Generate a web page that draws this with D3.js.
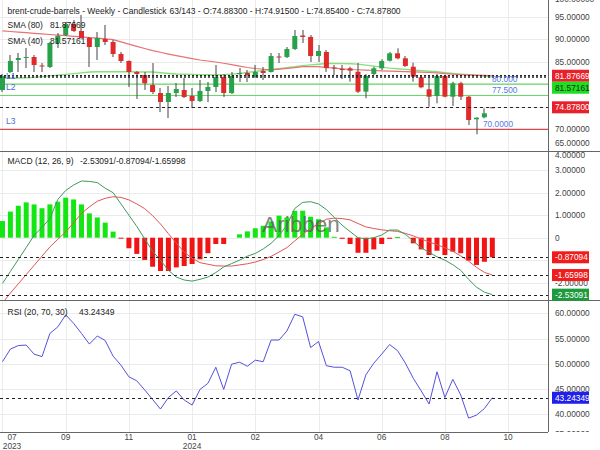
<!DOCTYPE html>
<html><head><meta charset="utf-8">
<script src="https://cdn.jsdelivr.net/npm/d3@7"></script>
<style>
html,body{margin:0;padding:0;background:#fff;}
svg{display:block;font-family:"Liberation Sans",Arial,sans-serif;}
</style></head><body>
<svg id="c" width="600" height="450"></svg>
<script>
// ---------- DATA ----------
const opens  = [78.71,82.71,85.37,85.81,86.03,84.15,83.82,89.14,90.91,93.35,91.80,90.25,88.25,90.02,89.36,86.70,85.15,82.71,82.04,79.82,78.05,76.06,78.05,78.72,77.39,76.28,78.50,79.38,81.60,78.05,82.26,82.49,81.60,82.93,82.71,86.14,86.03,87.81,90.80,90.47,86.25,87.14,83.70,83.37,83.53,82.77,78.34,82.26,83.53,85.21,86.85,85.74,83.88,81.53,78.87,77.39,81.82,77.23,80.20,77.23,72.22,72.66,74.883];
const highs  = [82.30,86.48,86.92,88.03,86.48,84.70,89.36,91.35,93.79,94.24,95.34,90.47,91.58,93.13,89.80,87.14,85.26,82.93,82.71,84.70,79.16,79.60,80.27,81.38,79.16,80.93,80.49,84.26,82.26,82.71,83.59,83.15,84.26,83.82,86.92,86.92,88.25,92.02,92.02,90.91,88.69,87.58,84.26,84.26,83.88,84.70,82.26,83.88,85.52,87.14,87.96,86.25,84.77,82.04,81.82,82.26,82.04,80.56,80.56,77.39,72.66,74.66,74.915];
const lows   = [78.27,82.49,82.71,83.59,82.71,82.71,83.59,88.03,90.69,91.58,90.14,83.82,85.37,88.69,86.03,84.70,79.38,76.72,78.72,77.83,73.84,72.51,77.17,76.94,74.73,76.06,76.06,78.27,77.17,77.83,80.49,80.49,81.38,80.93,82.60,84.70,85.81,87.58,89.14,84.92,84.92,82.71,82.04,81.16,80.56,78.05,76.88,82.04,83.15,85.03,85.52,83.82,80.56,79.09,75.01,75.77,77.10,75.17,76.50,70.96,68.89,72.44,74.854];
const closes = [81.82,85.15,85.81,86.03,84.26,83.93,89.14,90.69,93.35,91.80,90.25,88.25,90.25,89.36,86.70,85.15,82.71,82.26,80.20,78.27,76.06,78.05,78.94,77.17,76.28,78.50,79.38,81.60,78.05,81.82,82.49,82.04,82.71,82.49,86.25,85.92,87.81,90.69,90.47,86.25,87.36,83.59,83.48,83.26,83.00,78.34,81.82,83.53,85.15,86.85,85.74,84.04,81.67,79.32,77.23,81.82,77.23,80.20,77.23,72.06,72.58,73.55,74.878];

const sma80 = [91.82,91.69,91.55,91.42,91.29,91.15,91.02,90.89,90.75,90.62,90.49,90.33,90.20,90.07,89.89,89.38,88.87,88.38,87.92,87.45,87.08,86.68,86.32,85.99,85.68,85.37,85.15,84.92,84.64,84.33,84.02,83.70,83.48,83.31,83.17,83.35,83.53,83.68,83.88,83.90,83.88,83.66,83.59,83.42,83.26,83.20,83.13,83.04,82.97,82.91,82.84,82.77,82.73,82.66,82.60,82.51,82.35,82.22,82.13,82.06,82.02,81.95,81.87669];
const sma40 = [81.31,81.36,81.38,81.40,81.51,81.67,81.84,82.00,82.18,82.35,82.51,82.69,82.77,82.77,82.77,82.75,82.75,82.73,82.71,82.69,82.53,82.38,82.26,82.22,82.18,82.13,82.09,82.04,82.13,82.24,82.38,82.62,82.82,83.06,83.26,83.44,83.64,83.88,84.13,84.28,84.44,84.59,84.61,84.57,84.52,84.46,84.24,84.02,83.79,83.57,83.42,83.29,83.15,83.02,82.88,82.75,82.57,82.40,82.24,82.09,81.95,81.80,81.57161];

const macdLine = [-2.03,-1.50,-0.97,-0.44,0.10,0.46,0.85,1.70,2.10,2.34,2.52,2.50,2.45,2.20,2.00,1.50,1.00,0.50,-0.05,-0.60,-1.00,-1.45,-1.75,-1.88,-1.93,-1.85,-1.75,-1.55,-1.30,-1.15,-1.00,-0.82,-0.70,-0.50,-0.25,0.10,0.55,1.30,1.57,1.60,1.50,1.25,0.90,0.55,0.27,0.00,-0.05,0.00,0.12,0.34,0.34,0.15,-0.15,-0.45,-0.65,-0.85,-1.00,-1.20,-1.45,-1.85,-2.20,-2.42,-2.53091];
const macdSignal = [-2.90,-2.46,-2.05,-1.64,-1.23,-0.82,-0.41,-0.07,0.26,0.66,1.08,1.37,1.62,1.75,1.82,1.79,1.68,1.50,1.29,0.98,0.61,0.18,-0.24,-0.64,-0.91,-1.11,-1.18,-1.25,-1.26,-1.26,-1.21,-1.16,-1.08,-0.97,-0.83,-0.64,-0.44,-0.14,0.15,0.41,0.62,0.82,0.87,0.85,0.79,0.63,0.48,0.41,0.35,0.31,0.28,0.19,0.08,-0.06,-0.19,-0.31,-0.45,-0.60,-0.81,-1.04,-1.32,-1.54,-1.65998];
const macdHist = [0.74,1.16,1.42,1.57,1.48,1.31,1.48,1.60,1.78,1.70,1.48,1.08,0.90,0.67,0.27,-0.03,-0.47,-0.72,-0.99,-1.29,-1.48,-1.48,-1.32,-1.26,-1.17,-0.96,-0.69,-0.28,-0.28,0.00,0.15,0.28,0.42,0.53,0.72,0.98,0.90,1.19,1.20,0.93,0.82,0.46,0.04,-0.05,-0.28,-0.67,-0.67,-0.52,-0.28,-0.05,0.03,0.00,-0.25,-0.52,-0.77,-0.58,-0.77,-0.62,-0.69,-1.02,-1.21,-1.07,-0.87094];

const rsi = [50.4,52.9,53.6,53.7,51.9,51.4,56.0,57.3,59.7,58.0,56.0,53.9,55.5,54.6,51.5,49.7,47.4,46.6,44.8,42.9,41.0,43.3,44.6,42.8,41.8,44.9,46.1,49.3,44.9,49.9,50.3,49.5,50.7,50.4,54.7,54.7,56.5,59.8,59.3,53.2,54.4,49.6,49.3,49.3,48.6,42.8,47.8,50.1,51.9,53.8,52.6,50.1,47.1,44.6,42.0,48.4,43.3,46.9,43.8,39.2,39.8,41.1,43.24349];

const tickIndex = [0,8,16,24,32,40,48,56,64];
const tickMonth = ["07","09","11","01","02","04","06","08","10"];
const tickYear  = ["2023","","","2024","","","","",""];
const priceTicks = [65,70,75,80,85,90,95,100];
const macdTicks = [-2,-1,0,1,2,3,4];
const rsiTicks = [35,40,45,50,55,60];
const levelValues = [80,77.5,70];
const levelNames  = ["L1","L2","L3"];
const levelLabels = ["80.000","77.500","70.0000"];
const totalBars = 143;

// ---------- LAYOUT ----------
const svg = d3.select("#c");
const W = 548;
const PT=0, PB=151, MT=151, MB=300, RT=300, RB=432;
const n = closes.length;
const x = d3.scaleLinear().domain([-0.316, 69.05]).range([0, W]);
const yP = d3.scaleLinear().domain([65.19, 98.67]).range([PB, PT]);
const yM = d3.scaleLinear().domain([-2.769, 3.853]).range([MB, MT]);
const yR = d3.scaleLinear().domain([36.45, 62.64]).range([RB, RT]);
const idx = d3.range(n);
const crisp = v => Math.round(v) + 0.5;
const f5 = v => v.toFixed(5);

const defs = svg.append("defs");
function clip(id,x0,y0,w,h){defs.append("clipPath").attr("id",id).append("rect").attr("x",x0).attr("y",y0).attr("width",w).attr("height",h);}
clip("cp",0,PT,W,PB-PT); clip("cm",0,MT,W,MB-MT); clip("cr",0,RT,W,RB-RT);
clip("ap",W+1,PT,60,PB-PT); clip("am",W+1,MT,60,MB-MT); clip("ar",W+1,RT,60,RB-RT);

// ---------- GRID ----------
const grid = svg.append("g").attr("stroke","#ebebeb").attr("stroke-width",1);
tickIndex.forEach(t=>grid.append("line").attr("x1",crisp(x(t))).attr("x2",crisp(x(t))).attr("y1",0).attr("y2",RB));
function hgrid(ticks, sc, top, bot){
  ticks.forEach(v=>{const y=sc(v); if(y>top+1 && y<bot-1) grid.append("line").attr("x1",0).attr("x2",W).attr("y1",crisp(y)).attr("y2",crisp(y));});
}
hgrid(priceTicks,yP,PT,PB); hgrid(macdTicks,yM,MT,MB); hgrid(rsiTicks,yR,RT,RB);

// ---------- MAIN PANEL ----------
const gP = svg.append("g").attr("clip-path","url(#cp)");
const levelColors = ["#66d966","#66d966","#e04848"];
levelValues.forEach((v,i)=>{
  gP.append("line").attr("x1",0).attr("x2",W).attr("y1",yP(v)).attr("y2",yP(v))
    .attr("stroke",levelColors[i]).attr("stroke-width",1.2);
});
const lineP = (arr)=>d3.line().x((d,i)=>x(i)).y(d=>yP(d))(arr);
gP.append("path").attr("d",lineP(sma40)).attr("fill","none").attr("stroke","#86e07a").attr("stroke-width",1.4);
gP.append("path").attr("d",lineP(sma80)).attr("fill","none").attr("stroke","#e87272").attr("stroke-width",1.2);

const up = i => closes[i] >= opens[i];
gP.selectAll("line.wick").data(idx).enter().append("line")
  .attr("x1",i=>crisp(x(i))-0.5).attr("x2",i=>crisp(x(i))-0.5)
  .attr("y1",i=>yP(highs[i])).attr("y2",i=>yP(lows[i]))
  .attr("stroke","#444").attr("stroke-width",1);
gP.selectAll("rect.body").data(idx).enter().append("rect")
  .attr("x",i=>x(i)-2.5).attr("width",5)
  .attr("y",i=>yP(Math.max(opens[i],closes[i])))
  .attr("height",i=>Math.max(1,Math.abs(yP(opens[i])-yP(closes[i]))))
  .attr("fill",i=>up(i)?"#27a24b":"#e12b2b");

[sma80[n-1], sma40[n-1]].forEach(v=>gP.append("line").attr("x1",0).attr("x2",W).attr("y1",yP(v)).attr("y2",yP(v))
  .attr("stroke","#222").attr("stroke-width",1.3).attr("stroke-dasharray","2,2"));
gP.append("line").attr("x1",0).attr("x2",W).attr("y1",crisp(yP(closes[n-1]))).attr("y2",crisp(yP(closes[n-1])))
  .attr("stroke","#222").attr("stroke-width",1).attr("stroke-dasharray","3,3");

levelValues.forEach((v,i)=>{
  gP.append("text").attr("x",6).attr("y",yP(v)-5).attr("font-size",8.5).attr("fill","#4a6ad8").text(levelNames[i]);
  gP.append("text").attr("x",i===2?483:492).attr("y",yP(v)-2.5).attr("font-size",8.3).attr("fill","#5a78e8").text(levelLabels[i]);
});

// ---------- MACD PANEL ----------
const gM = svg.append("g").attr("clip-path","url(#cm)");
gM.selectAll("rect.h").data(idx).enter().append("rect")
  .attr("x",i=>x(i)-2.5).attr("width",5)
  .attr("y",i=>Math.min(yM(0),yM(macdHist[i])))
  .attr("height",i=>Math.max(macdHist[i]===0?0:1,Math.abs(yM(macdHist[i])-yM(0))))
  .attr("fill",i=>macdHist[i]>=0?"#14e614":"#f01414");
const lineM = (arr)=>d3.line().x((d,i)=>x(i)).y(d=>yM(d))(arr);
gM.append("path").attr("d",lineM(macdSignal)).attr("fill","none").attr("stroke","#e05656").attr("stroke-width",1);
gM.append("path").attr("d",lineM(macdLine)).attr("fill","none").attr("stroke","#3d9a5e").attr("stroke-width",1);
[macdHist[n-1], macdSignal[n-1], macdLine[n-1]].forEach(v=>gM.append("line").attr("x1",0).attr("x2",W)
  .attr("y1",crisp(yM(v))).attr("y2",crisp(yM(v))).attr("stroke","#222").attr("stroke-dasharray","3,3"));
gM.append("text").attr("x",301).attr("y",232).attr("text-anchor","middle").attr("font-size",22.5)
  .attr("fill","#5a5a5a").attr("opacity",0.75).text("Aribben");

// ---------- RSI PANEL ----------
const gR = svg.append("g").attr("clip-path","url(#cr)");
gR.append("path").attr("d",d3.line().x((d,i)=>x(i)).y(d=>yR(d))(rsi)).attr("fill","none").attr("stroke","#5252dc").attr("stroke-width",1);
gR.append("line").attr("x1",0).attr("x2",W).attr("y1",crisp(yR(rsi[n-1]))).attr("y2",crisp(yR(rsi[n-1])))
  .attr("stroke","#222").attr("stroke-dasharray","3,3");

// ---------- FRAME ----------
const fr = svg.append("g").attr("stroke","#666").attr("stroke-width",1);
fr.append("line").attr("x1",0).attr("x2",600).attr("y1",MT+0.5).attr("y2",MT+0.5);
fr.append("line").attr("x1",0).attr("x2",600).attr("y1",RT+0.5).attr("y2",RT+0.5);
fr.append("line").attr("x1",0).attr("x2",W).attr("y1",RB+0.5).attr("y2",RB+0.5);
fr.append("line").attr("x1",W+0.5).attr("x2",W+0.5).attr("y1",0).attr("y2",RB);

// ---------- RIGHT AXES ----------
function labelY(y, top, bot){
  if (y < top+4) return y >= top-5 ? top+4 : top-1;
  if (y > bot-8) return y <= bot+5 ? bot-8 : bot+2;
  return y;
}
function placeBoxes(items, sc){
  let prev = -1e9;
  return items.map(d=>({...d, y: sc(d.v)})).sort((a,b)=>a.y-b.y).map(d=>{
    const y = Math.max(d.y, prev+12); prev = y; return {...d, y};
  });
}
function axisLabels(ticks, sc, top, bot, cp, fmt, bxs){
  const g = svg.append("g").attr("clip-path",`url(#${cp})`);
  ticks.forEach(v=>{
    const y = labelY(sc(v),top,bot);
    if (bxs.some(b=>Math.abs(b.y-y)<5.5)) return; // hidden under a value box
    g.append("text").attr("x",555).attr("y",y+3).attr("font-size",8.3).attr("fill","#444").text(fmt(v));
  });
}
function drawBoxes(bxs){
  bxs.forEach(d=>{
    svg.append("rect").attr("x",552).attr("y",d.y-6).attr("width",37).attr("height",12).attr("fill",d.fill);
    svg.append("text").attr("x",555).attr("y",d.y+3).attr("font-size",8.3).attr("fill",d.tc).text(f5(d.v));
  });
}
const bP = placeBoxes([{v:sma80[n-1],fill:"#e8202a",tc:"#fff"},{v:sma40[n-1],fill:"#1fe01f",tc:"#222"},{v:closes[n-1],fill:"#e8202a",tc:"#fff"}], yP);
const bM = placeBoxes([{v:macdHist[n-1],fill:"#f01c1c",tc:"#fff"},{v:macdSignal[n-1],fill:"#f01c1c",tc:"#fff"},{v:macdLine[n-1],fill:"#1c9a3c",tc:"#fff"}], yM);
const bR = placeBoxes([{v:rsi[n-1],fill:"#2020e8",tc:"#fff"}], yR);
axisLabels(priceTicks,yP,PT,PB,"ap",f5,bP);
axisLabels(macdTicks,yM,MT,MB,"am",v=>v===0?"0":f5(v),bM);
axisLabels(rsiTicks,yR,RT,RB,"ar",f5,bR);
drawBoxes(bP); drawBoxes(bM); drawBoxes(bR);

// ---------- X AXIS ----------
tickIndex.forEach((t,i)=>{
  const cx = Math.max(x(t), 12);
  svg.append("text").attr("x",cx).attr("y",440).attr("text-anchor","middle").attr("font-size",8.3).attr("fill","#444").text(tickMonth[i]);
  if (tickYear[i]) svg.append("text").attr("x",cx).attr("y",448.5).attr("text-anchor","middle").attr("font-size",8.3).attr("fill","#444").text(tickYear[i]);
});

// ---------- LEGENDS ----------
const leg = svg.append("g").attr("font-size",8.5).attr("fill","#222");
leg.append("text").attr("x",7.5).attr("y",13.5).text("brent-crude-barrels - Weekly - Candlestick");
leg.append("text").attr("x",169.5).attr("y",13.5)
  .text(`${n}/${totalBars} - O:${f5(opens[n-1])} - H:${f5(highs[n-1])} - L:${f5(lows[n-1])} - C:${f5(closes[n-1])}`);
leg.append("text").attr("x",7.5).attr("y",28).text("SMA (80)");
leg.append("text").attr("x",50).attr("y",28).text(f5(sma80[n-1]));
leg.append("text").attr("x",7.5).attr("y",43.5).text("SMA (40)");
leg.append("text").attr("x",50).attr("y",43.5).text(f5(sma40[n-1]));
leg.append("text").attr("x",7.5).attr("y",164).text("MACD (12, 26, 9)");
leg.append("text").attr("x",80).attr("y",164).text(`${f5(macdLine[n-1])}/${f5(macdHist[n-1])}/${f5(macdSignal[n-1])}`);
leg.append("text").attr("x",7.5).attr("y",315).text("RSI (20, 70, 30)");
leg.append("text").attr("x",79).attr("y",315).text(f5(rsi[n-1]));
</script>
</body></html>
